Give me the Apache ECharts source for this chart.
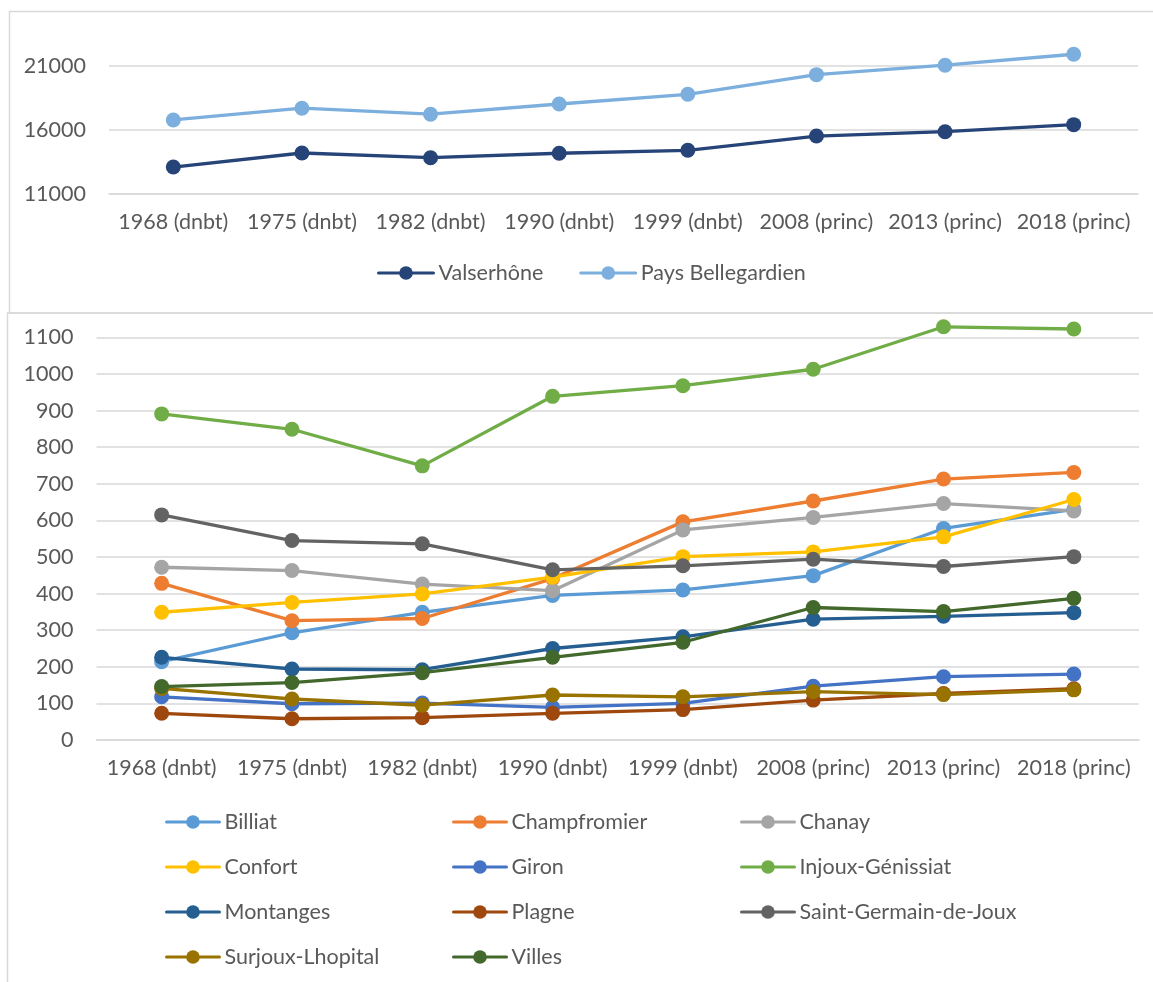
<!DOCTYPE html>
<html>
<head>
<meta charset="utf-8">
<title>Population – Pays Bellegardien</title>
<script src="https://cdn.jsdelivr.net/npm/echarts@6/dist/echarts.min.js"></script>
<style>
  html, body { margin: 0; padding: 0; background: #fff; }
  #chart { width: 1153px; height: 982px; }
</style>
</head>
<body>
<div id="chart"></div>
<script>
// Census years (dnbt = population sans doubles comptes, princ = population principale)
const categories = ['1968 (dnbt)', '1975 (dnbt)', '1982 (dnbt)', '1990 (dnbt)', '1999 (dnbt)', '2008 (princ)', '2013 (princ)', '2018 (princ)'];

// Upper panel: town and intercommunal area
const valserhone = [13090, 14190, 13820, 14170, 14400, 15520, 15860, 16410];
const paysBellegardien = [16780, 17700, 17230, 18030, 18790, 20330, 21070, 21930];

// Lower panel: the smaller communes
const billiat = [214, 293, 349, 395, 410, 449, 578, 630];
const champfromier = [428, 326, 332, 441, 596, 653, 713, 731];
const chanay = [472, 463, 426, 408, 574, 608, 646, 626];
const confort = [349, 376, 399, 445, 501, 514, 555, 657];
const giron = [118, 99, 101, 89, 100, 147, 173, 180];
const injouxGenissiat = [891, 849, 749, 939, 968, 1013, 1129, 1123];
const montanges = [226, 194, 192, 250, 282, 330, 338, 348];
const plagne = [73, 58, 61, 73, 83, 109, 127, 140];
const saintGermainDeJoux = [615, 545, 536, 465, 476, 494, 474, 501];
const surjouxLhopital = [141, 112, 95, 123, 118, 132, 124, 137];
const villes = [146, 157, 184, 226, 267, 362, 351, 387];

// Axis ticks
const topAxisTicks = { min: 11000, max: 26000, interval: 5000 };
const bottomAxisTicks = { min: 0, max: 1200, interval: 100 };

const FONT = 'Lato, "Liberation Sans", sans-serif';
const TEXT = '#595959';
const GRID_LINE = '#d9d9d9';
const FONT_SIZE = 21.5;

const topSeries = [
  { name: 'Valserhône', data: valserhone, color: '#264478' },
  { name: 'Pays Bellegardien', data: paysBellegardien, color: '#7cafdd' }
];

const bottomSeries = [
  { name: 'Billiat', data: billiat, color: '#5b9bd5' },
  { name: 'Champfromier', data: champfromier, color: '#ed7d31' },
  { name: 'Chanay', data: chanay, color: '#a5a5a5' },
  { name: 'Confort', data: confort, color: '#ffc000' },
  { name: 'Giron', data: giron, color: '#4472c4' },
  { name: 'Injoux-Génissiat', data: injouxGenissiat, color: '#70ad47' },
  { name: 'Montanges', data: montanges, color: '#255e91' },
  { name: 'Plagne', data: plagne, color: '#9e480e' },
  { name: 'Saint-Germain-de-Joux', data: saintGermainDeJoux, color: '#636363' },
  { name: 'Surjoux-Lhopital', data: surjouxLhopital, color: '#997300' },
  { name: 'Villes', data: villes, color: '#43682b' }
];

function lineSeries(s, axisIndex) {
  return {
    type: 'line',
    name: s.name,
    data: s.data,
    xAxisIndex: axisIndex,
    yAxisIndex: axisIndex,
    symbol: 'circle',
    symbolSize: 15,
    showAllSymbol: true,
    animation: false,
    color: s.color,
    itemStyle: { color: s.color },
    lineStyle: { color: s.color, width: 3.3, cap: 'round', join: 'round' },
    emphasis: { disabled: true }
  };
}

function categoryAxis(gridIndex) {
  return {
    type: 'category',
    gridIndex: gridIndex,
    data: categories,
    boundaryGap: true,
    axisLine: { show: true, lineStyle: { color: GRID_LINE, width: 1.5 } },
    axisTick: { show: false },
    axisLabel: { color: TEXT, fontFamily: FONT, fontSize: FONT_SIZE, margin: 17, interval: 0 },
    splitLine: { show: false }
  };
}

function valueAxis(gridIndex, ticks) {
  return {
    type: 'value',
    gridIndex: gridIndex,
    min: ticks.min,
    max: ticks.max,
    interval: ticks.interval,
    axisLine: { show: false },
    axisTick: { show: false },
    axisLabel: {
      color: TEXT, fontFamily: FONT, fontSize: FONT_SIZE, margin: 23,
      showMaxLabel: false,
      formatter: v => String(v)
    },
    splitLine: { show: true, showMaxLine: false, lineStyle: { color: GRID_LINE, width: 1.5 } }
  };
}

const legendText = { color: TEXT, fontFamily: FONT, fontSize: FONT_SIZE, lineHeight: 26 };

function columnLegend(names, left) {
  return {
    orient: 'vertical',
    left: left,
    top: 809,
    height: 172,
    padding: 0,
    itemWidth: 53,
    itemHeight: 17,
    itemGap: 19,
    selectedMode: false,
    data: names,
    lineStyle: { width: 3 },
    textStyle: legendText
  };
}

const chart = echarts.init(document.getElementById('chart'), null, { renderer: 'canvas' });

chart.setOption({
  backgroundColor: '#ffffff',
  animation: false,
  graphic: [
    {
      type: 'rect',
      shape: { x: 9.5, y: 11.5, width: 1200, height: 301.5 },
      style: { fill: 'none', stroke: GRID_LINE, lineWidth: 1.5 },
      silent: true, z: -10
    },
    {
      type: 'rect',
      shape: { x: 7.5, y: 313, width: 1200, height: 700 },
      style: { fill: 'none', stroke: GRID_LINE, lineWidth: 1.5 },
      silent: true, z: -10
    }
  ],
  grid: [
    { left: 109, right: 15, top: 2.3, height: 191.4, outerBoundsMode: 'none' },
    { left: 96.5, right: 14, top: 300.8, height: 439.2, outerBoundsMode: 'none' }
  ],
  xAxis: [categoryAxis(0), categoryAxis(1)],
  yAxis: [valueAxis(0, topAxisTicks), valueAxis(1, bottomAxisTicks)],
  legend: [
    {
      orient: 'horizontal',
      left: 377,
      top: 260,
      padding: 0,
      itemWidth: 55,
      itemHeight: 17,
      itemGap: 36,
      selectedMode: false,
      data: topSeries.map(s => s.name),
      lineStyle: { width: 3 },
      textStyle: legendText
    },
    columnLegend(['Billiat', 'Confort', 'Montanges', 'Surjoux-Lhopital'], 165),
    columnLegend(['Champfromier', 'Giron', 'Plagne', 'Villes'], 452),
    columnLegend(['Chanay', 'Injoux-Génissiat', 'Saint-Germain-de-Joux'], 740)
  ],
  series: [
    ...topSeries.map(s => lineSeries(s, 0)),
    ...bottomSeries.map(s => lineSeries(s, 1))
  ]
});
</script>
</body>
</html>
